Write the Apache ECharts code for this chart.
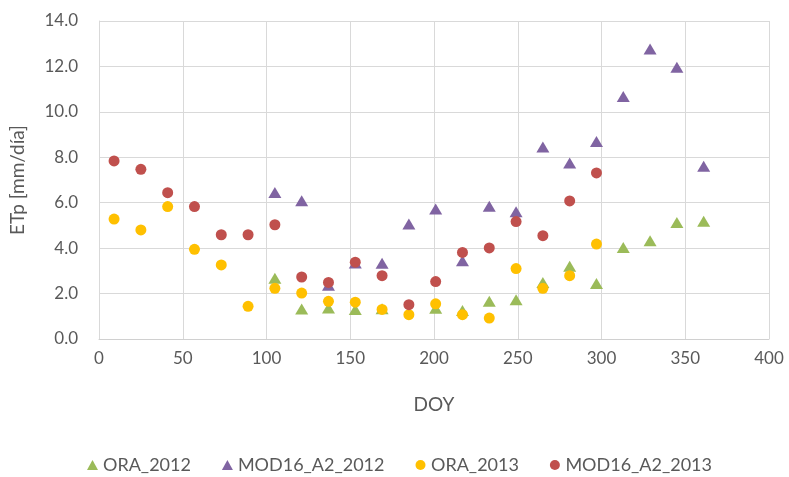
<!DOCTYPE html>
<html>
<head>
<meta charset="utf-8">
<script src="https://cdn.jsdelivr.net/npm/echarts@6/dist/echarts.min.js"></script>
<style>html,body{margin:0;padding:0;background:#fff;}#c{width:789px;height:477px;}</style>
</head>
<body>
<div id="c"></div>
<script>
var doy = [9,25,41,57,73,89,105,121,137,153,169,185,201,217,233,249,265,281,297,313,329,345,361];
var seriesNames = ['ORA_2012','MOD16_A2_2012','ORA_2013','MOD16_A2_2013'];
var ora2012   = [null,null,null,null,null,null,2.67,1.32,1.36,1.30,1.33,null,1.35,1.25,1.66,1.73,2.49,3.20,2.44,4.03,4.33,5.13,5.18];
var mod2012   = [null,null,null,null,null,null,6.45,6.09,2.37,3.35,3.33,5.06,5.72,3.44,5.84,5.60,8.45,7.75,8.70,10.68,12.77,11.96,7.60];
var ora2013   = [5.28,4.80,5.83,3.95,3.26,1.44,2.23,2.02,1.66,1.62,1.30,1.07,1.55,1.07,0.92,3.10,2.23,2.79,4.18,null,null,null,null];
var mod2013   = [7.84,7.47,6.44,5.83,4.59,4.59,5.03,2.73,2.49,3.38,2.79,1.51,2.53,3.81,4.01,5.17,4.55,6.08,7.31,null,null,null,null];
var xTicks = [0,50,100,150,200,250,300,350,400];
var yTicks = [0,2,4,6,8,10,12,14];

function pairs(arr){
  var out=[];
  for(var i=0;i<doy.length;i++){ if(arr[i]!==null) out.push([doy[i],arr[i]]); }
  return out;
}
var txt = '#595959';
var font = 'Lato, "Open Sans", sans-serif';
var chart = echarts.init(document.getElementById('c'), null, {renderer:'canvas'});
chart.setOption({
  animation:false,
  backgroundColor:'#fff',
  textStyle:{fontFamily:font},
  grid:{left:98,right:20,top:21,bottom:138,containLabel:false},
  legend:{
    left:82, top:451, itemGap:31, itemWidth:11, itemHeight:10,
    textStyle:{color:txt,fontSize:18,fontFamily:font},
    data:[{name:'ORA_2012',icon:'triangle'},{name:'MOD16_A2_2012',icon:'triangle'},{name:'ORA_2013',icon:'circle'},{name:'MOD16_A2_2013',icon:'circle'}]
  },
  xAxis:{
    type:'value', min:xTicks[0], max:xTicks[xTicks.length-1], interval:50,
    name:'DOY', nameLocation:'middle', nameGap:56,
    nameTextStyle:{color:txt,fontSize:19,fontFamily:font},
    axisLine:{show:true,lineStyle:{color:'#d0d0d0',width:1}},
    axisTick:{show:false},
    axisLabel:{color:txt,fontSize:17,margin:11,fontFamily:font},
    splitLine:{show:true,lineStyle:{color:'#d9d9d9',width:1}}
  },
  yAxis:{
    type:'value', min:yTicks[0], max:yTicks[yTicks.length-1], interval:2,
    name:'ETp [mm/día]', nameLocation:'middle', nameGap:72, nameRotate:90,
    nameTextStyle:{color:txt,fontSize:19,fontFamily:font},
    axisLine:{show:true,lineStyle:{color:'#d9d9d9',width:1}},
    axisTick:{show:false},
    axisLabel:{color:txt,fontSize:17,margin:21,fontFamily:font,formatter:function(v){return v.toFixed(1);}},
    splitLine:{show:true,lineStyle:{color:'#d9d9d9',width:1}}
  },
  series:[
    {name:seriesNames[0],type:'scatter',symbol:'triangle',symbolSize:[13,11],itemStyle:{color:'#9BBB59',opacity:1},data:pairs(ora2012)},
    {name:seriesNames[1],type:'scatter',symbol:'triangle',symbolSize:[13,11],itemStyle:{color:'#8064A2',opacity:1},data:pairs(mod2012)},
    {name:seriesNames[2],type:'scatter',symbol:'circle',symbolSize:11,itemStyle:{color:'#FFC000',opacity:1},data:pairs(ora2013)},
    {name:seriesNames[3],type:'scatter',symbol:'circle',symbolSize:11,itemStyle:{color:'#C0504D',opacity:1},data:pairs(mod2013)}
  ]
});
</script>
</body>
</html>
